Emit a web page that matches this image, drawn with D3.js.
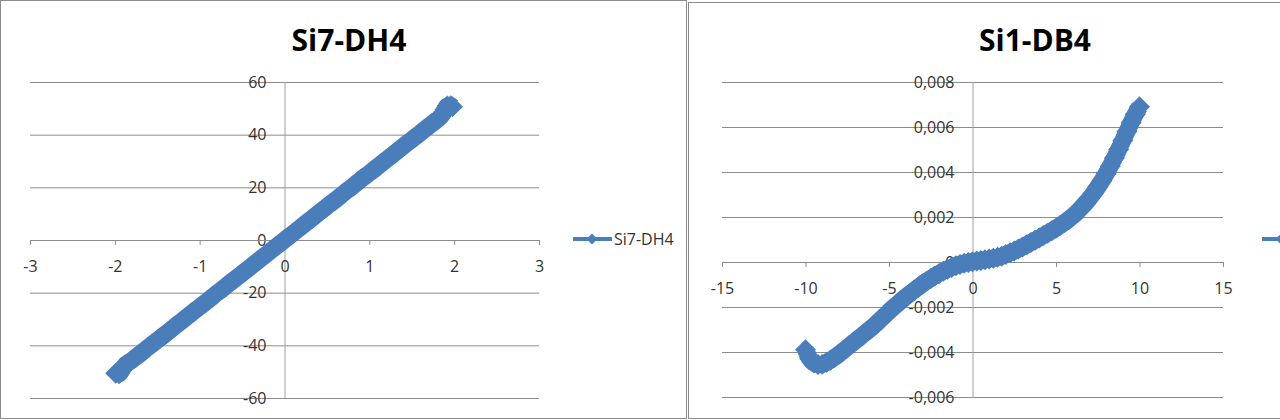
<!DOCTYPE html>
<html><head><meta charset="utf-8">
<script src="https://cdn.jsdelivr.net/npm/d3@7"></script>
<style>
body{margin:0;background:#fff}
svg{display:block}
text{font-family:"Open Sans",sans-serif}
</style>
</head><body><svg id="c" width="1280" height="420"></svg>
<script>
// ---------- data ----------
const titleL = "Si7-DH4";
const titleR = "Si1-DB4";

const xL = [-1.99,-1.95,-1.92,-1.9,-1.8,-1.7,-1.6,-1.5,-1.4,-1.3,-1.2,-1.1,-1.0,-0.9,-0.8,-0.7,-0.6,-0.5,-0.4,-0.3,-0.2,-0.1,0,
            0.1,0.2,0.3,0.4,0.5,0.6,0.7,0.8,0.9,1.0,1.1,1.2,1.3,1.4,1.5,1.6,1.7,1.8,1.86,1.89,1.92,1.96,1.98];
const yL = [-50.6,-50.8,-49.6,-48.3,-45.7,-43.2,-40.6,-38.1,-35.6,-33.0,-30.5,-27.9,-25.4,-22.9,-20.3,-17.8,-15.2,-12.7,-10.2,-7.6,-5.1,-2.5,0,
            2.5,5.1,7.6,10.2,12.7,15.2,17.8,20.3,22.9,25.4,27.9,30.5,33.0,35.6,38.1,40.6,43.2,45.7,47.6,49.5,50.9,51.0,50.6];

const xR = [-10,-9.75,-9.5,-9.25,-9,-8.75,-8.5,-8.25,-8,-7.75,-7.5,-7.25,-7,-6.75,-6.5,-6.25,-6,-5.75,-5.5,-5.25,-5,
            -4.75,-4.5,-4.25,-4,-3.75,-3.5,-3.25,-3,-2.75,-2.5,-2.25,-2,-1.75,-1.5,-1.25,-1,-0.75,-0.5,-0.25,0,
            0.25,0.5,0.75,1,1.25,1.5,1.75,2,2.25,2.5,2.75,3,3.25,3.5,3.75,4,4.25,4.5,4.75,5,
            5.25,5.5,5.75,6,6.25,6.5,6.75,7,7.25,7.5,7.75,8,8.25,8.5,8.75,9,9.25,9.5,9.75,10];
const yR = [-0.0039,-0.0043,-0.00449,-0.00456,-0.00455,-0.00447,-0.00436,-0.00424,-0.0041,-0.00395,-0.0038,-0.00365,-0.0035,-0.00335,-0.0032,-0.00305,-0.0029,-0.00273,-0.00255,-0.00238,-0.0022,
            -0.00203,-0.00187,-0.00171,-0.00155,-0.00141,-0.00126,-0.00112,-0.00098,-0.00085,-0.00073,-0.00062,-0.00051,-0.00041,-0.00032,-0.00024,-0.00017,-0.00011,-0.00006,-0.00002,0.00001,
            0.00004,0.00007,0.0001,0.00013,0.00017,0.00021,0.00026,0.00033,0.00041,0.00049,0.00058,0.00067,0.00077,0.00087,0.00097,0.00107,0.00118,0.00128,0.00139,0.0015,
            0.00162,0.00175,0.00189,0.00204,0.00221,0.0024,0.0026,0.00282,0.00307,0.00333,0.00361,0.00392,0.00426,0.00462,0.005,0.0054,0.0058,0.0062,0.00657,0.0069];

const xTicksL = [-3,-2,-1,0,1,2,3];
const yTicksL = [-60,-40,-20,0,20,40,60];
const xTickLabelsL = ["-3","-2","-1","0","1","2","3"];
const yTickLabelsL = ["-60","-40","-20","0","20","40","60"];

const xTicksR = [-15,-10,-5,0,5,10,15];
const yTicksR = [-0.006,-0.004,-0.002,0,0.002,0.004,0.006,0.008];
const xTickLabelsR = ["-15","-10","-5","0","5","10","15"];
const yTickLabelsR = ["-0,006","-0,004","-0,002","0","0,002","0,004","0,006","0,008"];

// ---------- drawing ----------
const svg = d3.select("#c");
const BLUE = "#4a7ebb", GRID = "#8c8c8c", TXT = "#333333";

// panel frames
svg.append("rect").attr("x",0.5).attr("y",0.5).attr("width",686).attr("height",418)
  .attr("fill","#fff").attr("stroke",GRID);
svg.append("rect").attr("x",688.5).attr("y",2.5).attr("width",700).attr("height",416)
  .attr("fill","#fff").attr("stroke",GRID);

function panel(o){
  const x = d3.scaleLinear().domain(o.xDom).range([o.left,o.right]);
  const y = d3.scaleLinear().domain(o.yDom).range([o.bottom,o.top]);
  const g = svg.append("g");

  // horizontal gridlines
  const grid = g.append("g").attr("transform",`translate(${o.left},0)`)
    .call(d3.axisLeft(y).tickValues(o.yTicks).tickSize(-(o.right-o.left)).tickFormat(""));
  grid.select(".domain").remove();
  grid.selectAll("line").attr("stroke",GRID);

  // vertical axis at x=0 with labels
  const ya = g.append("g").attr("transform",`translate(${x(0)},0)`)
    .call(d3.axisLeft(y).tickValues(o.yTicks).tickSize(0).tickPadding(18)
      .tickFormat((d,i)=>o.yLabels[i]));
  ya.select(".domain").attr("stroke","#a0a0a0");
  ya.selectAll("text").attr("font-size",16).attr("fill",TXT).style("font-family","'Open Sans',sans-serif");

  // horizontal axis at y=0 with ticks
  const xa = g.append("g").attr("transform",`translate(0,${y(0)})`)
    .call(d3.axisBottom(x).tickValues(o.xTicks).tickSize(5).tickPadding(16)
      .tickFormat((d,i)=>o.xLabels[i]));
  xa.select(".domain").attr("stroke",GRID);
  xa.selectAll("line").attr("stroke",GRID);
  xa.selectAll("text").attr("font-size",16).attr("fill",TXT).style("font-family","'Open Sans',sans-serif");

  // series
  const pts = o.xs.map((v,i)=>[v,o.ys[i]]);
  const clip = "clip"+o.id;
  svg.append("clipPath").attr("id",clip).append("rect")
    .attr("x",o.frameL).attr("y",0).attr("width",o.frameW).attr("height",420);
  const sg = g.append("g").attr("clip-path",`url(#${clip})`);
  sg.append("path").datum(pts)
    .attr("d",d3.line().curve(d3.curveMonotoneX).x(d=>x(d[0])).y(d=>y(d[1])))
    .attr("fill","none").attr("stroke",BLUE).attr("stroke-width",17)
    .attr("stroke-linejoin","round");
  const diamond = d3.symbol(d3.symbolSquare, 220)();
  sg.selectAll("path.m").data(pts).join("path").attr("class","m")
    .attr("d",diamond)
    .attr("transform",d=>`translate(${x(d[0])},${y(d[1])}) rotate(45)`)
    .attr("fill",BLUE);

  // title
  g.append("text").attr("x",o.titleX).attr("y",51).attr("text-anchor","middle")
    .attr("font-size",30).attr("font-weight","bold").attr("fill","#000").text(o.title);

  // legend
  const lg = g.append("g").attr("clip-path",`url(#${clip})`);
  lg.append("line").attr("x1",o.legX).attr("x2",o.legX+39).attr("y1",239).attr("y2",239)
    .attr("stroke",BLUE).attr("stroke-width",4);
  lg.append("path").attr("d",d3.symbol(d3.symbolSquare,60)())
    .attr("transform",`translate(${o.legX+19},239) rotate(45)`).attr("fill",BLUE);
  if (o.legText) {
    lg.append("text").attr("x",o.legX+41).attr("y",239).attr("dy","0.35em")
      .attr("font-size",16).attr("fill",TXT).text(o.title);
  }
}

panel({id:"L", xDom:[-3,3], yDom:[-60,60], left:30, right:539, top:82, bottom:398,
  xTicks:xTicksL, yTicks:yTicksL, xLabels:xTickLabelsL, yLabels:yTickLabelsL,
  xs:xL, ys:yL, title:titleL, titleX:349, legX:573, legText:true, frameL:1, frameW:685});
panel({id:"R", xDom:[-15,15], yDom:[-0.006,0.008], left:722, right:1223, top:82, bottom:397,
  xTicks:xTicksR, yTicks:yTicksR, xLabels:xTickLabelsR, yLabels:yTickLabelsR,
  xs:xR, ys:yR, title:titleR, titleX:1035, legX:1262, legText:false, frameL:689, frameW:600});
</script>
</body></html>
